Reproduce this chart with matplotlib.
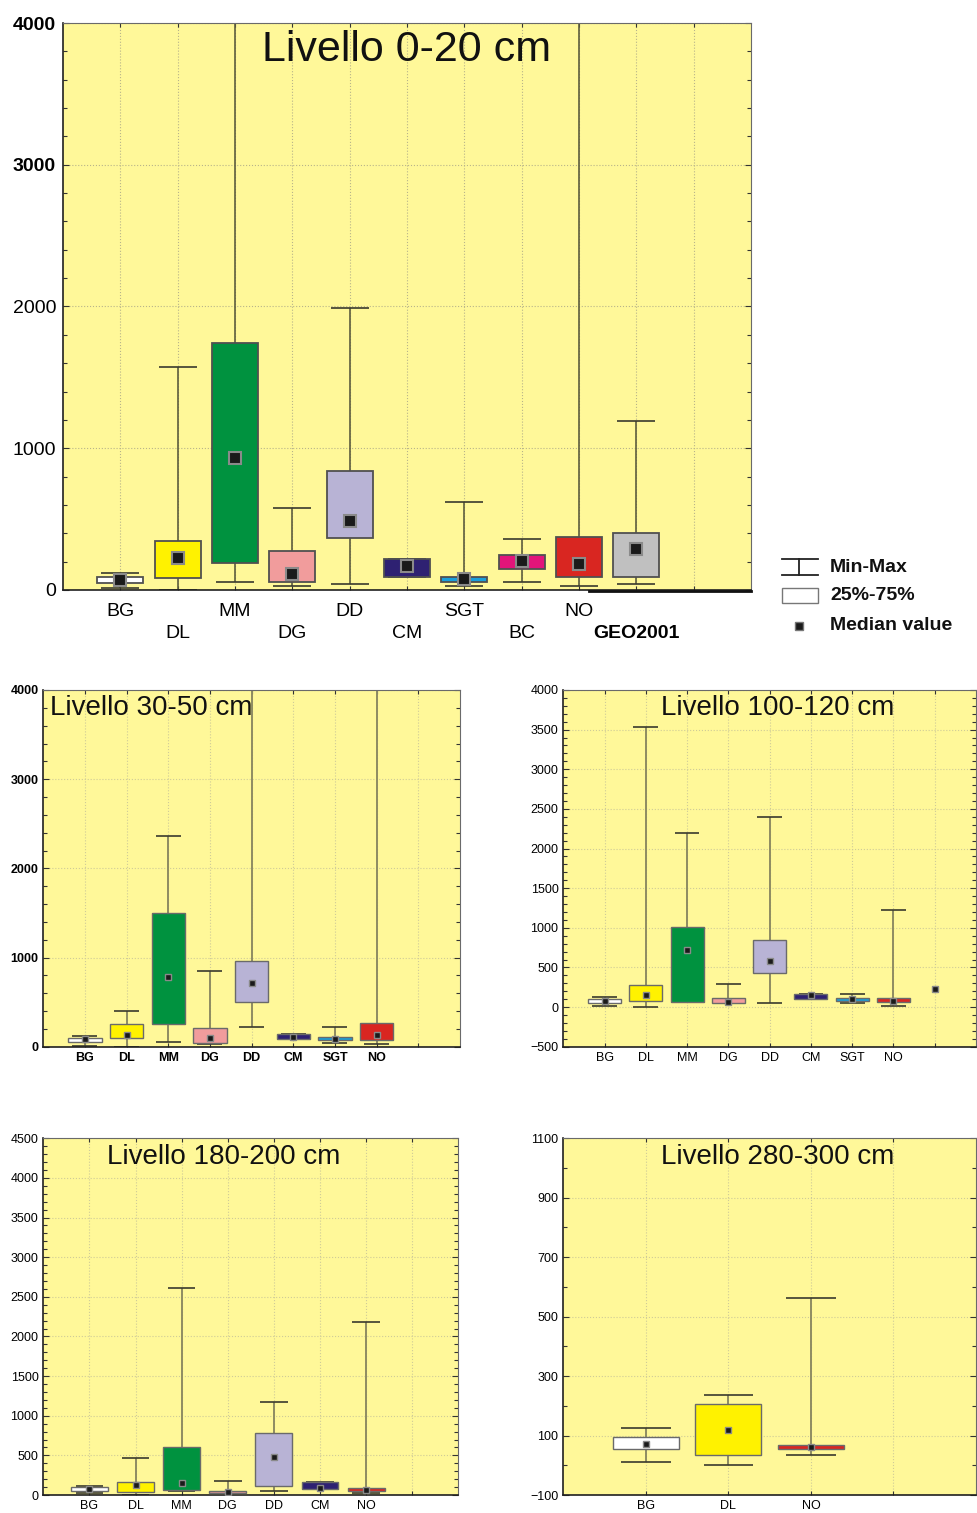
import matplotlib
matplotlib.use("Agg")
import matplotlib.pyplot as plt
import numpy as np
from matplotlib.patches import Rectangle
from matplotlib.ticker import MultipleLocator

plt.rcParams['font.family'] = ['Liberation Sans', 'DejaVu Sans']

# ---------------- data ----------------
# Livello 0-20 cm
p1_cats = ["BG", "DL", "MM", "DG", "DD", "CM", "SGT", "BC", "NO", "GEO2001"]
p1_q1 = [47, 82, 188, 54, 364, 90, 59, 146, 90, 90]
p1_q3 = [94, 343, 1740, 275, 837, 216, 94, 245, 376, 400]
p1_med = [70, 223, 934, 110, 489, 169, 75, 205, 181, 287]
p1_min = [12, 0, 54, 28, 42, 90, 28, 59, 28, 40]
p1_max = [122, 1571, 4400, 576, 1989, 216, 619, 358, 4400, 1194]

# Livello 30-50 cm
p2_cats = ["BG", "DL", "MM", "DG", "DD", "CM", "SGT", "NO"]
p2_q1 = [49, 93, 250, 45, 497, 90, 71, 71]
p2_q3 = [93, 254, 1495, 206, 964, 142, 105, 262]
p2_med = [82, 131, 785, 93, 710, 112, 90, 127]
p2_min = [11, 0, 49, 26, 217, 90, 37, 34]
p2_max = [123, 404, 2359, 852, 4400, 142, 217, 4400]

# Livello 100-120 cm
p3_cats = ["BG", "DL", "MM", "DG", "DD", "CM", "SGT", "NO", ""]
p3_q1 = [55, 72, 63, 47, 425, 101, 76, 59, np.nan]
p3_q3 = [97, 274, 1006, 110, 846, 165, 110, 110, np.nan]
p3_med = [76, 148, 720, 59, 581, 156, 97, 76, 223]
p3_min = [17, -4, 63, 47, 47, 101, 47, 8, np.nan]
p3_max = [122, 3529, 2192, 286, 2402, 165, 160, 1220, np.nan]

# Livello 180-200 cm
p4_cats = ["BG", "DL", "MM", "DG", "DD", "CM", "NO"]
p4_q1 = [50, 34, 59, 25, 109, 80, 55]
p4_q3 = [97, 164, 601, 50, 786, 160, 84]
p4_med = [76, 122, 156, 42, 475, 93, 67]
p4_min = [21, 0, 50, 21, 46, 80, 21]
p4_max = [118, 463, 2607, 181, 1169, 160, 2178]

# Livello 280-300 cm
p5_cats = ["BG", "DL", "NO"]
p5_q1 = [54, 33, 54]
p5_q3 = [94, 205, 67]
p5_med = [73, 119, 60]
p5_min = [12, 0, 35]
p5_max = [124, 235, 562]

# ---------------- style ----------------
colors = {"BG": "#FFFFFF", "DL": "#FFF200", "MM": "#00923F", "DG": "#F19C9C",
          "DD": "#B8B3D5", "CM": "#2E2172", "SGT": "#1A9FDB", "BC": "#E2157A",
          "NO": "#D92621", "GEO2001": "#C0C0C0", "": "none"}
BG = "#FFF899"

W, H = 977, 1513
fig = plt.figure(figsize=(W / 100, H / 100), dpi=100)


def px_axes(l, t, r, b):
    return fig.add_axes([l / W, 1 - b / H, (r - l) / W, (b - t) / H])


def draw(ax, cats, q1, q3, med, mn, mx, xmax, ylim, major, minor,
         big=False):
    x = np.arange(1, len(cats) + 1, dtype=float)
    q1 = np.array(q1, float); q3 = np.array(q3, float)
    mn = np.array(mn, float); mx = np.array(mx, float)
    ax.set_facecolor(BG)
    wcol = "#5E5E3E" if big else "#8E8C62"
    ax.vlines(x, mn, mx, color=wcol, lw=1.2 if big else 1.4, zorder=2)
    cap = 0.66 if big else 0.6
    ax.hlines(mn, x - cap / 2, x + cap / 2, color="#3A3A2E", lw=1.2, zorder=2)
    ax.hlines(mx, x - cap / 2, x + cap / 2, color="#3A3A2E", lw=1.2, zorder=2)
    ax.bar(x, q3 - q1, bottom=q1, width=0.8,
           color=[colors[c] for c in cats],
           edgecolor="#505050" if big else "#6A6A6A",
           linewidth=1.3 if big else 1.0, zorder=3)
    ax.plot(x, med, ls="none", marker="s", ms=8 if big else 5,
            mfc="#1A1A1A", mec="#8A8A8A", mew=1.5 if big else 1.0, zorder=4)
    ax.set_xlim(0, xmax)
    ax.set_ylim(*ylim)
    ax.yaxis.set_major_locator(MultipleLocator(major, offset=ylim[0] % major))
    ax.yaxis.set_minor_locator(MultipleLocator(minor))
    ax.set_xticks(np.arange(1, xmax))
    ax.grid(True, which="major", color="#B8B48A" if big else "#CFCB98",
            ls=":", lw=0.8, zorder=0)
    ax.set_axisbelow(True)
    ax.tick_params(axis="both", which="both", right=True, top=True,
                   direction="in", length=3, width=0.8, color="#333333")
    ax.tick_params(axis="y", which="major", length=4)
    for s in ["left", "bottom"]:
        ax.spines[s].set_color("#202020"); ax.spines[s].set_linewidth(1.2)
    for s in ["top", "right"]:
        ax.spines[s].set_color("#6A6A6A"); ax.spines[s].set_linewidth(0.8)
    return x


# ---- top panel ----
ax1 = px_axes(63, 23, 751, 590)
draw(ax1, p1_cats, p1_q1, p1_q3, p1_med, p1_min, p1_max, 12, (0, 4000),
     1000, 200, big=True)
labs = [c if i % 2 == 0 else "\n" + c for i, c in enumerate(p1_cats)] + [""]
ax1.set_xticklabels(labs, fontsize=14, linespacing=1.45)
for t in ax1.get_xticklabels():
    if "GEO2001" in t.get_text():
        t.set_fontweight("bold")
ax1.tick_params(axis="x", pad=9)
ax1.tick_params(axis="y", labelsize=14, pad=5)
for t in ax1.get_yticklabels():
    if t.get_text() in ("4000", "3000"):
        t.set_fontweight("bold")
ax1.text(0.5, 0.988, "Livello 0-20 cm", transform=ax1.transAxes,
         ha="center", va="top", fontsize=31, color="#111111")
# thick baseline segment under the last categories
ax1.plot([0.765, 1.0], [-0.002, -0.002], transform=ax1.transAxes,
         color="#111111", lw=2.0, clip_on=False, zorder=5)

# legend
lg = fig.add_axes([770 / W, 1 - 650 / H, 207 / W, 110 / H])
lg.set_xlim(770, 977); lg.set_ylim(650, 540); lg.axis("off")
lg.plot([782, 818], [559, 559], color="#222222", lw=1.3)
lg.plot([782, 818], [575, 575], color="#222222", lw=1.3)
lg.plot([799, 799], [559, 575], color="#222222", lw=1.3)
lg.add_patch(Rectangle((782, 588), 36, 15, facecolor="white",
                       edgecolor="#777777", lw=1.0))
lg.plot([799], [626], marker="s", ms=6, mfc="#1A1A1A", mec="#777777")
for ty, txt in [(568, "Min-Max"), (596, "25%-75%"), (626, "Median value")]:
    lg.text(830, ty, txt, fontsize=14, fontweight="bold", va="center",
            ha="left", color="#111111")

# ---- 30-50 ----
ax2 = px_axes(43.3, 690, 460, 1046.7)
draw(ax2, p2_cats, p2_q1, p2_q3, p2_med, p2_min, p2_max, 10, (0, 4000),
     1000, 200)
ax2.set_xticklabels(p2_cats + [""], fontsize=9, fontweight="bold")
ax2.tick_params(axis="y", labelsize=9)
for t in ax2.get_yticklabels():
    t.set_fontweight("bold")
ax2.text(0.016, 0.985, "Livello 30-50 cm", transform=ax2.transAxes,
         ha="left", va="top", fontsize=20, color="#111111")

# ---- 100-120 ----
ax3 = px_axes(563.3, 690, 976, 1046.7)
draw(ax3, p3_cats, p3_q1, p3_q3, p3_med, p3_min, p3_max, 10, (-500, 4000),
     500, 100)
ax3.set_xticklabels(p3_cats, fontsize=9)
ax3.tick_params(axis="y", labelsize=9)
ax3.text(0.52, 0.985, "Livello 100-120 cm", transform=ax3.transAxes,
         ha="center", va="top", fontsize=20, color="#111111")

# ---- 180-200 ----
ax4 = px_axes(43.3, 1138.3, 458.3, 1495)
draw(ax4, p4_cats, p4_q1, p4_q3, p4_med, p4_min, p4_max, 9, (0, 4500),
     500, 100)
ax4.set_xticklabels(p4_cats + [""], fontsize=9)
ax4.tick_params(axis="y", labelsize=9)
ax4.text(0.435, 0.985, "Livello 180-200 cm", transform=ax4.transAxes,
         ha="center", va="top", fontsize=20, color="#111111")

# ---- 280-300 ----
ax5 = px_axes(563.3, 1138.3, 976, 1495)
draw(ax5, p5_cats, p5_q1, p5_q3, p5_med, p5_min, p5_max, 5, (-100, 1100),
     200, 100)
ax5.set_xticklabels(p5_cats + [""], fontsize=9)
ax5.tick_params(axis="y", labelsize=9)
ax5.text(0.52, 0.985, "Livello 280-300 cm", transform=ax5.transAxes,
         ha="center", va="top", fontsize=20, color="#111111")

fig.savefig("out.png", dpi=100, facecolor="white")
